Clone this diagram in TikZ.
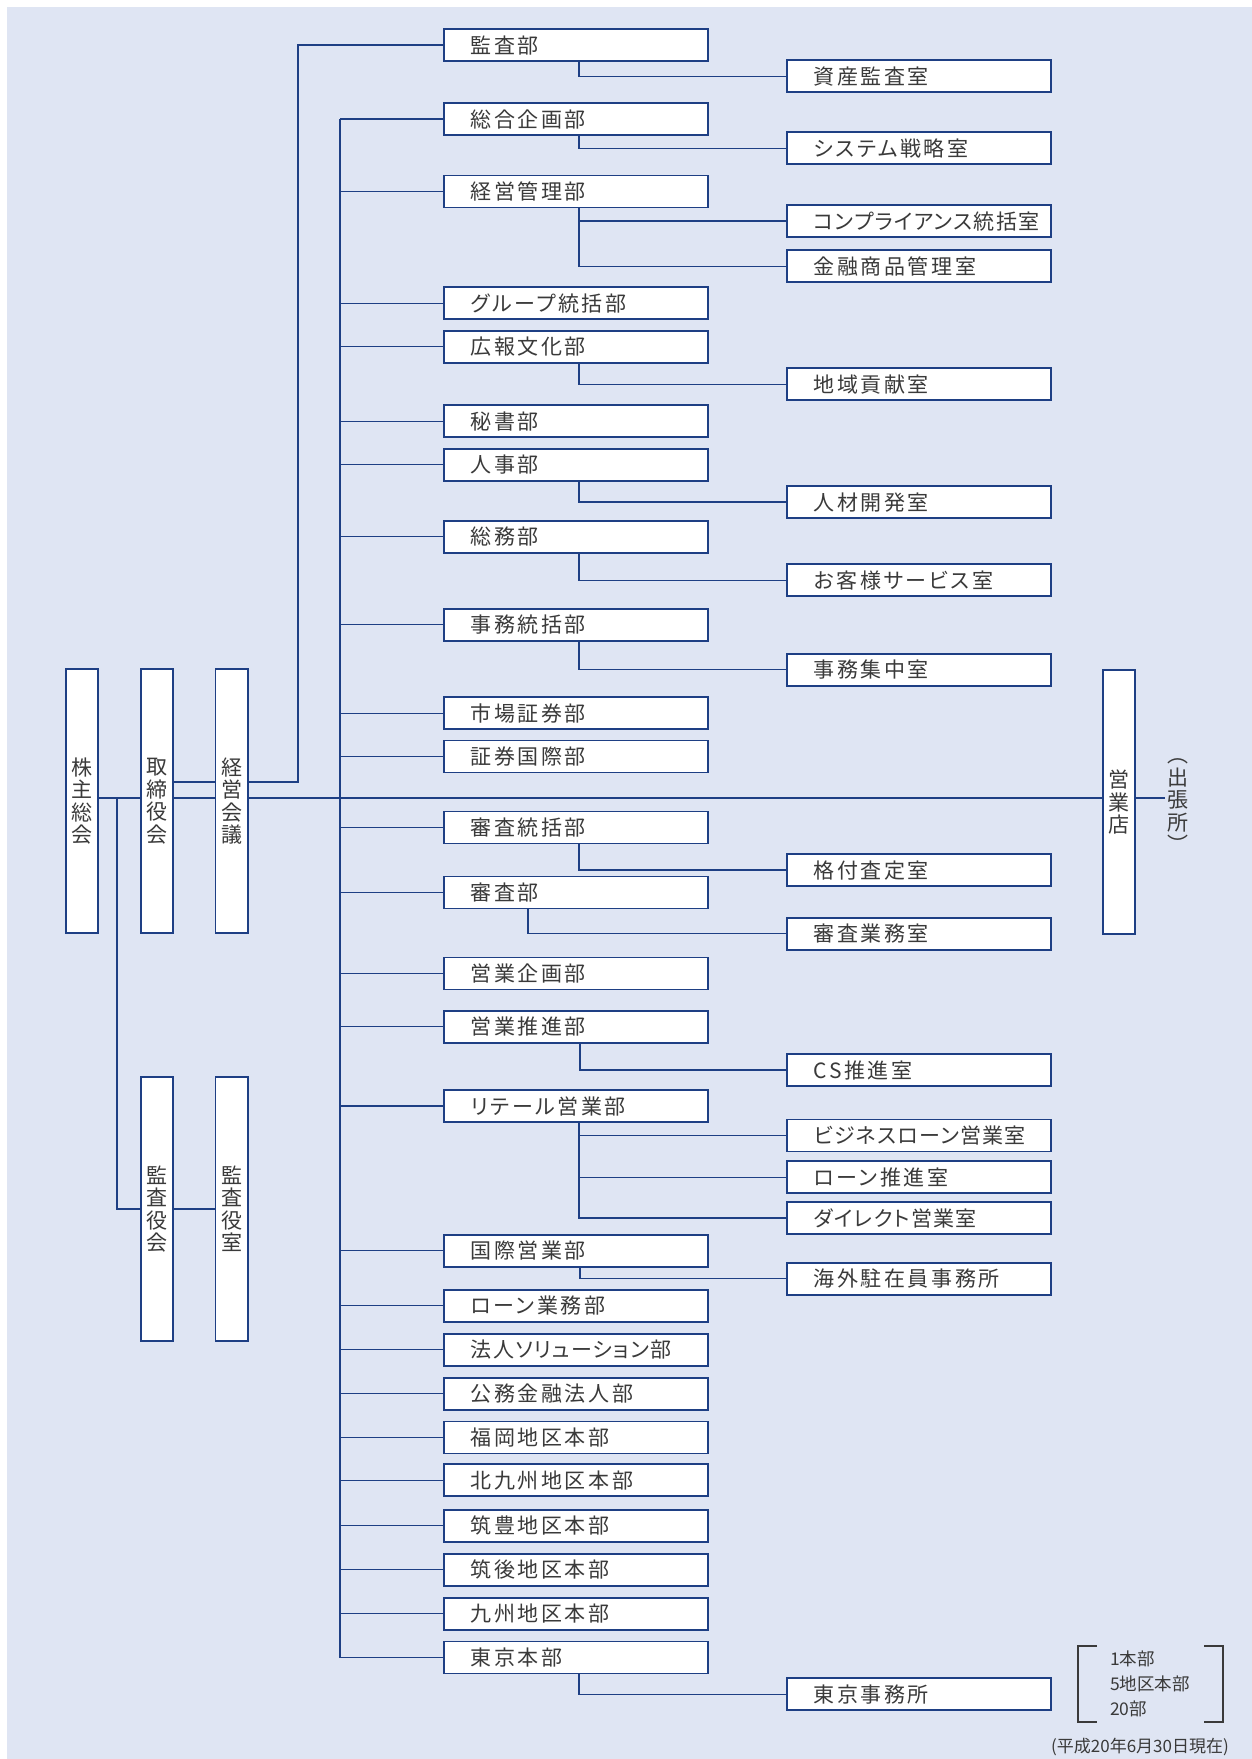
\documentclass[tikz,border=0pt]{standalone}
\usepackage{fontspec}
\newfontfamily\jp[LetterSpace=12,CharacterWidth=AlternateProportional]{Noto Sans CJK JP}
\newfontfamily\jpt[LetterSpace=6,CharacterWidth=AlternateProportional]{Noto Sans CJK JP}
\newfontfamily\jpn{Noto Sans CJK JP}
\tikzset{ %框与连线
    bu/.style={draw=shenlan, line width=1.8pt, fill=white, anchor=west, text width=264pt, minimum height=32pt, inner xsep=0pt, inner ysep=0pt, align=left, text height=18pt, text depth=2pt, font=\jp\fontsize{21}{24}\selectfont, text=huise, execute at begin node={\hspace*{27pt}}},
    shu/.style={draw=shenlan, line width=1.8pt, fill=white, minimum width=32.6pt, minimum height=264pt, inner sep=0pt, align=center, font=\jpn\fontsize{21}{22.5}\selectfont, text=huise},
    lian/.style={draw=shenlan, line width=1.3pt},
}
\definecolor{qianlan}{HTML}{DFE5F3}
\definecolor{shenlan}{HTML}{1E3F84}
\definecolor{huise}{HTML}{3A3A3A}

\begin{document}
\begin{tikzpicture}[x=1pt, y=-1pt]
		\fill[qianlan] (7,7) rectangle (1252,1759);
		\useasboundingbox (0,0) rectangle (1252,1759);
		% 左侧竖框
		\node[shu] (kabu) at (82,801) {株\\主\\総\\会};
		\node[shu] (tori) at (157,801) {取\\締\\役\\会};
		\node[shu] (keiei) at (231.7,801) {経\\営\\会\\議};
		\node[shu] (kansayaku) at (157,1209) {監\\査\\役\\会};
		\node[shu] (kansashitsu) at (231.7,1209) {監\\査\\役\\室};
		\node[shu] (eigyoten) at (1119,802) {営\\業\\店};
		\node[align=center, inner sep=2pt, font=\jpn\fontsize{21}{22.5}\selectfont, text=huise] (shutcho) at (1178,806) {︵\\出\\張\\所\\︶};
		% 部
		\foreach \y/\n/\t in {45/b1/監査部, 119/b2/総合企画部, 191.5/b3/経営管理部, 303.3/b4/グループ統括部, 346.7/b5/広報文化部, 421.3/b6/秘書部, 464.7/b7/人事部, 536.7/b8/総務部, 624.7/b9/事務統括部, 713.2/b10/市場証券部, 756.5/b11/証券国際部, 827.5/b12/審査統括部, 892.5/b13/審査部, 973.5/b14/営業企画部, 1026.8/b15/営業推進部, 1106/b16/リテール営業部, 1250.7/b17/国際営業部, 1305.8/b18/ローン業務部, 1349.7/b19/\jpt 法人ソリューション部, 1393.8/b20/公務金融法人部, 1437.5/b21/福岡地区本部, 1480.3/b22/北九州地区本部, 1525.8/b23/筑豊地区本部, 1569.7/b24/筑後地区本部, 1613.7/b25/九州地区本部, 1657.5/b26/東京本部}{
			\node[bu] (\n) at (443,\y) {\t};
		}
		% 室
		\foreach \y/\n/\t in {76.3/s1/資産監査室, 148.3/s2/システム戦略室, 221/s3/\jpt コンプライアンス統括室, 266.3/s4/金融商品管理室, 384.3/s5/地域貢献室, 502/s6/人材開発室, 580.3/s7/お客様サービス室, 669.8/s8/事務集中室, 870/s9/格付査定室, 933.7/s10/審査業務室, 1070/s11/CS推進室, 1135.5/s12/\jpt ビジネスローン営業室, 1177.3/s13/ローン推進室, 1218/s14/\jpt ダイレクト営業室, 1278.8/s15/海外駐在員事務所, 1694.2/s16/東京事務所}{
			\node[bu] (\n) at (786,\y) {\t};
		}
		% 连线
		\coordinate (main) at (0,798);
		\coordinate (hi) at (0,782);
		\coordinate (tr) at (340,0);
		\coordinate (fen) at (117,798);
		\draw[lian] (kabu.east |- main) -- (tori.west |- main);
		\draw[lian] (tori.east |- main) -- (keiei.west |- main);
		\draw[lian] (tori.east |- hi) -- (keiei.west |- hi);
		\draw[lian] (keiei.east |- hi) -| ([xshift=-145pt]b1.west) -- (b1.west);
		\draw[lian] (keiei.east |- main) -- (eigyoten.west |- main);
		\draw[lian] (eigyoten.east |- main) -- (shutcho.west |- main);
		\draw[lian] (fen) |- (kansayaku.west);
		\draw[lian] (kansayaku) -- (kansashitsu);
		\draw[lian] (tr |- b2.west) -- (tr |- b26.west);
		\foreach \n in {2,...,26}{
			\draw[lian] (tr |- b\n.west) -- (b\n.west);
		}
		\foreach \b/\s/\d in {b1/s1/3, b2/s2/3, b3/s3/3, b3/s4/3, b5/s5/3, b7/s6/3, b8/s7/3, b9/s8/3, b12/s9/3, b13/s10/-48, b15/s11/4, b16/s12/3, b16/s13/3, b16/s14/3, b17/s15/4, b26/s16/3}{
			\draw[lian] ([xshift=\d pt]\b.south) |- (\s.west);
		}
		% 注
		\node[font=\jpn\fontsize{17.5}{25}\selectfont, text=huise, align=left, anchor=west, inner sep=0pt] (shuliang) at (1110,1684) {1本部\\5地区本部\\20部};
		\draw[huise, line width=1.3pt] (1097,1646) -- (1078,1646) -- (1078,1722) -- (1097,1722);
		\draw[huise, line width=1.3pt] (1204,1646) -- (1223,1646) -- (1223,1722) -- (1204,1722);
		\node[font=\jpn\fontsize{17}{20}\selectfont, text=huise, anchor=east, inner sep=0pt] (riqi) at (1229,1747) {(平成20年6月30日現在)};
\end{tikzpicture}
\end{document}
